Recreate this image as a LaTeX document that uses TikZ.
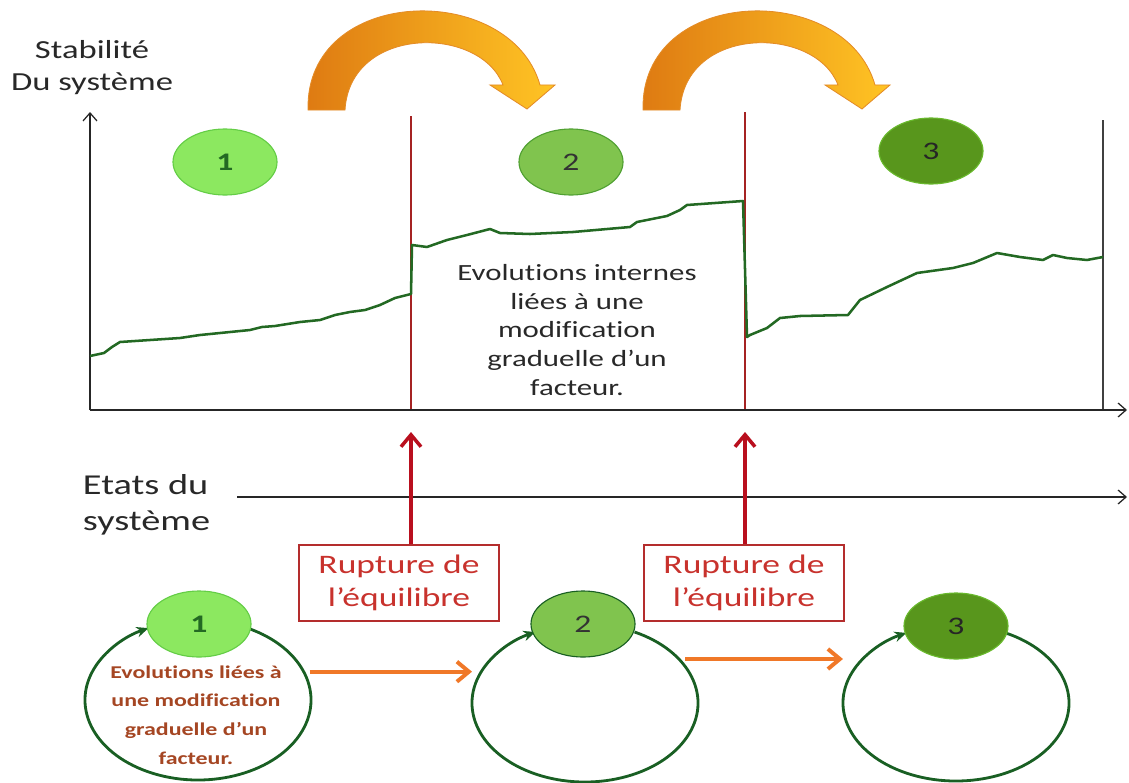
\documentclass[tikz,border=0pt]{standalone}
\usepackage{fontspec}
\setmainfont{Carlito}[FakeStretch=1.33, Ligatures=NoCommon]
\definecolor{curvegreen}{RGB}{35, 105, 35}
\definecolor{loopgreen}{RGB}{25, 95, 35}
\definecolor{linered}{RGB}{165, 35, 35}
\definecolor{brkred}{RGB}{185, 15, 30}
\definecolor{boxred}{RGB}{180, 45, 45}
\definecolor{ruptext}{RGB}{200, 50, 45}
\definecolor{lime}{RGB}{140, 232, 96}
\definecolor{limeedge}{RGB}{100, 205, 70}
\definecolor{midgreen}{RGB}{128, 196, 78}
\definecolor{midedge}{RGB}{80, 160, 50}
\definecolor{deepgreen}{RGB}{88, 150, 28}
\definecolor{deepedge}{RGB}{105, 185, 45}
\definecolor{orangeA}{RGB}{222, 122, 18}
\definecolor{orangeB}{RGB}{255, 196, 36}
\definecolor{orangeedge}{RGB}{228, 140, 40}
\definecolor{floworange}{RGB}{240, 120, 40}
\definecolor{loopbrown}{RGB}{165, 70, 35}
\definecolor{inkgray}{RGB}{40, 40, 40}
\usetikzlibrary{shapes.geometric, arrows.meta}

\begin{document}
\begin{tikzpicture}[x=0.025cm, y=-0.025cm,
    axis/.style={draw=black!85, line width=0.9pt, -{Straight Barb[length=2mm,width=3.5mm]}},
    limit/.style={draw=linered, line width=0.8pt},
    curve/.style={draw=curvegreen, line width=1.8pt, line join=round},
    state/.style={ellipse, minimum width=2.6cm, minimum height=1.65cm,
                  inner sep=0pt, line width=0.8pt, font=\fontsize{18}{20}\selectfont},
    ring/.style={ellipse, minimum width=5.65cm, minimum height=4cm, inner sep=0pt, outer sep=0pt},
    loopline/.style={draw=loopgreen, line width=2pt, -{Stealth[length=3mm,width=2.6mm]}},
    flow/.style={draw=floworange, line width=2.8pt, -{Straight Barb[length=3mm,width=5mm]}},
    brk/.style={draw=brkred, line width=2.5pt, -{Straight Barb[length=3mm,width=5mm]}},
    rupbox/.style={draw=boxred, line width=0.8pt, minimum width=5cm, minimum height=1.9cm,
                   align=center, text=ruptext, font=\fontsize{19}{23.5}\selectfont},
    bigarrow/.style={draw=orangeedge, line width=0.6pt, left color=orangeA, right color=orangeB}
  ]
    \useasboundingbox (0,0) rectangle (1129,782);

    % curved arrows on top
    \foreach \dx in {0,335}
      \shadedraw[bigarrow, shift={(\dx,0)}] (308,110) .. controls (305,-15) and (510,-20) .. (540,85)
        -- (555,85) -- (527,109) -- (490,85) -- (503,85)
        .. controls (480,25) and (350,25) .. (345,110) -- cycle;

    % stability chart
    \coordinate (o) at (90,410);
    \coordinate (ytop) at (90,112);
    \coordinate (xend) at (1127,410);
    \coordinate (brk1) at (411,410);
    \coordinate (brk2) at (745,410);
    \draw[limit] (brk1) -- (411,116);
    \draw[limit] (brk2) -- (745,112);
    \draw[draw=black!75, line width=0.8pt] (1103,410) -- (1103,120);
    \draw[axis] (o) -- (ytop);
    \draw[axis] (o) -- (xend);

    \draw[curve] (90,356) -- (104,353) -- (112,347) -- (120,342) -- (150,340) -- (180,338)
      -- (200,335) -- (230,332) -- (250,330) -- (262,327) -- (275,326) -- (300,322)
      -- (320,320) -- (335,315) -- (350,312) -- (365,310) -- (380,305) -- (395,298)
      -- (411,294) -- (412,245) -- (427,247) -- (447,240) -- (467,235) -- (490,229)
      -- (500,233) -- (530,234) -- (573,232) -- (630,227) -- (637,222) -- (667,216)
      -- (680,210) -- (687,205) -- (743,201) -- (747,337) -- (750,335) -- (767,328)
      -- (780,318) -- (800,316) -- (848,315) -- (860,300) -- (887,287) -- (917,273)
      -- (953,268) -- (973,263) -- (997,253) -- (1020,257) -- (1043,260) -- (1053,255)
      -- (1067,258) -- (1087,260) -- (1103,257);

    \node[align=center, text=inkgray, font=\fontsize{18.5}{22.8}\selectfont] (ylabel) at (92,68)
      {Stabilité\\Du système};
    \node[state, fill=lime, draw=limeedge, text=curvegreen, font=\fontsize{18}{20}\selectfont\bfseries]
      (top1) at (225,162) {1};
    \node[state, fill=midgreen, draw=midedge, text=black!80] (top2) at (571,162) {2};
    \node[state, fill=deepgreen, draw=deepedge, text=black!85] (top3) at (931,151) {3};
    \node[align=center, text=inkgray, font=\fontsize{16.5}{20.3}\selectfont] (midtext) at (577,330)
      {Evolutions internes\\liées à une\\modification\\graduelle d’un\\facteur.};

    % states of the system
    \node[align=left, anchor=west, text=inkgray, font=\fontsize{20.5}{25.5}\selectfont] (etats) at (78,505)
      {Etats du\\système};
    \coordinate (sx0) at (237,497);
    \draw[axis] (sx0) -- (1127,497);

    \node[rupbox] (rup1) at (399,583) {Rupture de\\l’équilibre};
    \node[rupbox] (rup2) at (744,583) {Rupture de\\l’équilibre};
    \draw[brk] (rup1.north -| brk1) -- ([yshift=-0.55cm]brk1);
    \draw[brk] (rup2.north -| brk2) -- ([yshift=-0.55cm]brk2);

    \node[ring] (ring1) at (198,700) {};
    \node[ring] (ring2) at (585,703) {};
    \node[ring] (ring3) at (956,703) {};
    \draw[loopline] ([shift={(-64:113 and 80)}]ring1.center) arc[start angle=-64, end angle=244, x radius=113, y radius=80];
    \draw[loopline] ([shift={(-64:113 and 79)}]ring2.center) arc[start angle=-64, end angle=244, x radius=113, y radius=79];
    \draw[loopline] ([shift={(-64:113 and 78)}]ring3.center) arc[start angle=-64, end angle=244, x radius=113, y radius=78];

    \node[state, fill=lime, draw=limeedge, text=curvegreen,
          font=\fontsize{18}{20}\selectfont\bfseries] (bot1) at (199,624) {1};
    \node[state, fill=midgreen, draw=loopgreen, text=black!80] (bot2) at (583,624) {2};
    \node[state, fill=deepgreen, draw=deepedge, text=black!85] (bot3) at (956,626) {3};
    \node[align=center, text=loopbrown, font=\fontsize{12.8}{20.5}\selectfont\bfseries] (looptext) at (196,715)
      {Evolutions liées à\\une modification\\graduelle d’un\\facteur.};

    \coordinate (f1) at ([xshift=0.15cm]ring1.15);
    \coordinate (f2) at ([xshift=0.15cm]ring2.25);
    \draw[flow] (f1) -- (f1 -| ring2.west);
    \draw[flow] (f2) -- (f2 -| ring3.west);
  \end{tikzpicture}
\end{document}
